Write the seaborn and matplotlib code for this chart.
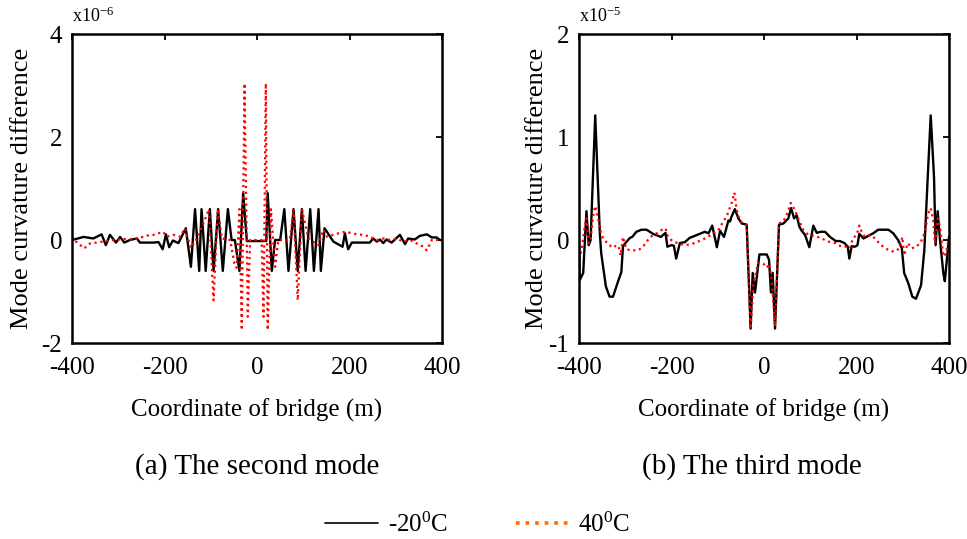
import numpy as np
import pandas as pd
import seaborn as sns
import matplotlib
matplotlib.use("Agg")
import matplotlib.pyplot as plt
from matplotlib.lines import Line2D

# (a) second mode, values in 1e-6
x2_cold = [-400, -375, -354, -336, -327, -318, -305, -296, -287, -275, -260, -253, -224, -213,
           -204, -197, -190, -182, -170, -154, -143, -134, -125, -120, -111, -102, -94, -84,
           -74, -63, -55, -48, -38, -30, -22, 20, 23, 32, 39, 50, 59, 68, 79, 88, 97, 105,
           115, 123, 133, 138, 146, 165, 185, 190, 197, 205, 244, 251, 259, 266, 273, 280,
           291, 309, 320, 327, 341, 352, 367, 378, 388, 396, 400]
y2_cold = [0.0, 0.06, 0.03, 0.11, -0.1, 0.1, -0.05, 0.06, -0.05, 0.0, 0.03, -0.05, -0.05, -0.04,
           -0.18, 0.11, -0.14, -0.01, -0.06, 0.23, -0.52, 0.6, -0.6, 0.6, -0.6, 0.6, -0.6, 0.6,
           -0.6, 0.6, 0.0, 0.0, -0.6, 0.91, -0.02, -0.02, 0.91, -0.6, 0.0, 0.0, 0.6, -0.6, 0.6,
           -0.6, 0.6, -0.6, 0.6, -0.6, 0.6, -0.6, 0.23, -0.03, -0.13, 0.13, -0.18, -0.05, -0.05,
           0.03, -0.03, 0.01, -0.06, 0.01, -0.05, 0.1, -0.08, 0.03, 0.01, 0.08, 0.11, 0.05,
           0.05, 0.0, 0.0]

x2_hot = [-400, -397, -386, -375, -368, -361, -347, -332, -311, -289, -267, -253, -238, -224,
          -213, -203, -195, -181, -166, -156, -143, -130, -116, -104, -94, -85, -76, -58, -49,
          -44, -38, -33, -27, -20, -15, 10, 14, 19, 23, 30, 39, 46, 71, 79, 88, 97, 111, 133,
          143, 151, 165, 176, 190, 201, 216, 230, 244, 259, 273, 288, 302, 316, 331, 345,
          360, 367, 378, 389, 400]
y2_hot = [0.065, 0.0, -0.065, -0.16, -0.13, -0.065, -0.05, -0.03, 0.0, 0.02, 0.01, 0.045, 0.085,
          0.1, 0.13, 0.16, 0.065, 0.1, 0.065, 0.23, -0.16, 0.03, 0.32, 0.6, -1.17, 0.6, 0.03,
          0.0, -0.45, -0.54, 0.6, -1.75, 3.04, -1.49, 0.0, 0.0, -1.49, 3.04, -1.75, 0.6, -0.52,
          0.0, 0.0, 0.6, -1.17, 0.6, 0.03, -0.1, 0.2, 0.065, 0.1, 0.13, 0.16, 0.14, 0.11, 0.1,
          0.065, 0.0, 0.03, 0.0, 0.03, -0.03, 0.0, -0.065, -0.13, -0.2, 0.0, 0.0, 0.0]

# (b) third mode, values in 1e-5
x3_cold = [-400, -398.6, -391, -384, -379, -375, -365, -355, -352, -342, -334, -326.5, -317,
           -308.5, -305, -298, -290, -285, -276, -265, -254, -240, -223, -213, -209, -200,
           -195, -190, -182, -171, -161, -150, -139, -128, -120, -112, -102, -95, -86.5, -77,
           -73.5, -70, -63, -55.5, -48, -37.5, -29, -24.5, -19.5, -10, 5.8, 10.8, 15, 18.7,
           23.8, 32.4, 41.8, 52.6, 58.4, 65, 70.6, 76.4, 81.4, 88.6, 98, 106.6, 114, 122.5,
           132, 142.7, 155, 164, 174, 181, 184.5, 189.5, 197, 202, 206, 215, 225.5, 236, 247,
           258, 269, 279.5, 290, 298, 303, 312, 320.7, 328.6, 339.5, 346.6, 354, 360.4, 367.6,
           371, 375.5, 380.5, 387.7, 391, 396, 400]
y3_cold = [-0.05, -0.39, -0.32, 0.28, -0.05, 0.0, 1.21, 0.06, -0.13, -0.45, -0.55, -0.55, -0.42,
           -0.31, -0.06, -0.02, 0.02, 0.03, 0.08, 0.1, 0.1, 0.06, 0.03, 0.07, -0.065, -0.05,
           -0.055, -0.18, -0.03, -0.02, 0.02, 0.04, 0.06, 0.08, 0.065, 0.14, -0.07, 0.09, 0.03,
           0.19, 0.18, 0.23, 0.3, 0.21, 0.16, 0.15, -0.86, -0.32, -0.51, -0.14, -0.14, -0.19,
           -0.51, -0.32, -0.86, 0.15, 0.16, 0.21, 0.31, 0.21, 0.24, 0.13, 0.09, 0.05, -0.07,
           0.14, 0.07, 0.08, 0.08, 0.03, -0.01, -0.01, -0.03, -0.065, -0.18, -0.06, -0.065,
           -0.05, 0.06, 0.015, 0.04, 0.065, 0.1, 0.1, 0.1, 0.065, 0.0, -0.08, -0.32, -0.42,
           -0.55, -0.57, -0.44, -0.1, 0.61, 1.21, 0.61, -0.05, 0.28, 0.0, -0.32, -0.4, -0.16,
           0.03]

x3_hot = [-400, -398.6, -393.5, -387.7, -384, -379, -375, -369.7, -365, -359, -353, -348, -337,
          -326.5, -319, -314, -310, -305, -298, -287, -272, -261.6, -251, -240, -229, -218,
          -212.6, -207.6, -197, -186, -171.5, -157, -142.7, -128, -114, -99.5, -88, -80.7, -70,
          -64, -59, -52, -44.7, -37.5, -29, -23, -12.3, -1.4, 5.8, 11.5, 16.6, 23.8, 32.4,
          41.8, 50.5, 57.7, 67, 76.4, 85, 95.8, 110, 124.7, 139, 153.5, 168, 178.8, 186, 191.8,
          200.4, 206, 211, 218, 229, 240, 250.8, 261.6, 276, 287, 294, 299, 303, 310.6, 319,
          330, 339.5, 348, 355, 360.4, 366, 369.7, 375.5, 380.5, 387.7, 393.5, 398.5]
y3_hot = [0.0, -0.18, -0.065, 0.13, 0.21, -0.03, 0.0, 0.23, 0.33, 0.21, 0.08, 0.015, -0.04,
          -0.075, -0.05, -0.065, -0.15, 0.03, -0.09, -0.1, -0.1, -0.065, 0.0, 0.05, 0.07, 0.11,
          0.11, 0.03, -0.015, -0.03, -0.05, -0.04, -0.015, 0.015, 0.05, 0.09, 0.18, 0.23, 0.36,
          0.46, 0.29, 0.19, 0.155, 0.145, -0.86, -0.42, -0.22, -0.23, -0.27, -0.23, -0.39,
          -0.84, 0.16, 0.18, 0.26, 0.36, 0.29, 0.18, 0.1, 0.05, 0.04, 0.015, -0.015, -0.03,
          -0.065, -0.065, -0.08, 0.015, 0.05, 0.14, 0.08, 0.03, 0.05, 0.015, -0.04, -0.08,
          -0.11, -0.105, -0.065, 0.03, -0.15, -0.03, -0.08, -0.065, -0.015, 0.08, 0.26, 0.31,
          0.19, -0.03, 0.21, 0.13, -0.16, -0.13, 0.0]

sns.set_style("white")
plt.rcParams['font.family'] = 'Liberation Serif'
plt.rcParams['mathtext.fontset'] = 'custom'
plt.rcParams['mathtext.rm'] = 'Liberation Serif'
plt.rcParams['axes.unicode_minus'] = False
plt.rcParams['text.color'] = 'black'
plt.rcParams['axes.labelcolor'] = 'black'

fig = plt.figure(figsize=(9.67, 5.39), dpi=100)
ax1 = fig.add_axes([0.0745, 0.3636, 0.3826, 0.5733])
ax2 = fig.add_axes([0.5988, 0.3636, 0.3826, 0.5733])

panels = [
    (ax1, x2_cold, y2_cold, x2_hot, y2_hot, (-2, 4), [-2, 0, 2, 4], '-6',
     '(a) The second mode', -0.135, 0.5),
    (ax2, x3_cold, y3_cold, x3_hot, y3_hot, (-1, 2), [-1, 0, 1, 2], '-5',
     '(b) The third mode', -0.1135, 0.468),
]

for ax, xc, yc, xh, yh, ylim, yt, expo, cap, ylab_x, cap_x in panels:
    sns.lineplot(x=xc, y=yc, ax=ax, color='black', lw=1.7, sort=False, estimator=None)
    sns.lineplot(x=xh, y=yh, ax=ax, color='red', lw=1.6, linestyle=':', sort=False, estimator=None)
    ax.set_xlim(-400, 400)
    ax.set_ylim(*ylim)
    ax.set_xticks([-400, -200, 0, 200, 400])
    ax.set_yticks(yt)
    ax.tick_params(direction='in', top=True, right=True, length=4, width=1.3,
                   labelsize=18, colors='black')
    ax.tick_params(axis='x', pad=10)
    ax.tick_params(axis='y', pad=7)
    for s in ax.spines.values():
        s.set_linewidth(1.8)
        s.set_color('black')
    ax.set_xlabel('Coordinate of bridge (m)', fontsize=18, va='center')
    ax.xaxis.set_label_coords(0.5, -0.217)
    ax.set_ylabel('Mode curvature difference', fontsize=19, va='center')
    ax.yaxis.set_label_coords(ylab_x, 0.5)
    ax.text(0.0, 1.025, 'x10$\\mathregular{^{' + expo + '}}$', transform=ax.transAxes,
            fontsize=13, ha='left', va='bottom')
    ax.text(cap_x, -0.40, cap, transform=ax.transAxes, fontsize=21, ha='center', va='center')

handles = [Line2D([], [], color='black', lw=1.2),
           Line2D([], [], color='#ff6a00', lw=2.6, linestyle=':')]
fig.legend(handles, ['-20$\\mathregular{^0}$C', '40$\\mathregular{^0}$C'], loc='center',
           bbox_to_anchor=(0.494, 0.027), ncol=2, frameon=False, fontsize=18,
           handlelength=2.1, handletextpad=0.4, columnspacing=2.7)

fig.savefig('out.png', dpi=100)
